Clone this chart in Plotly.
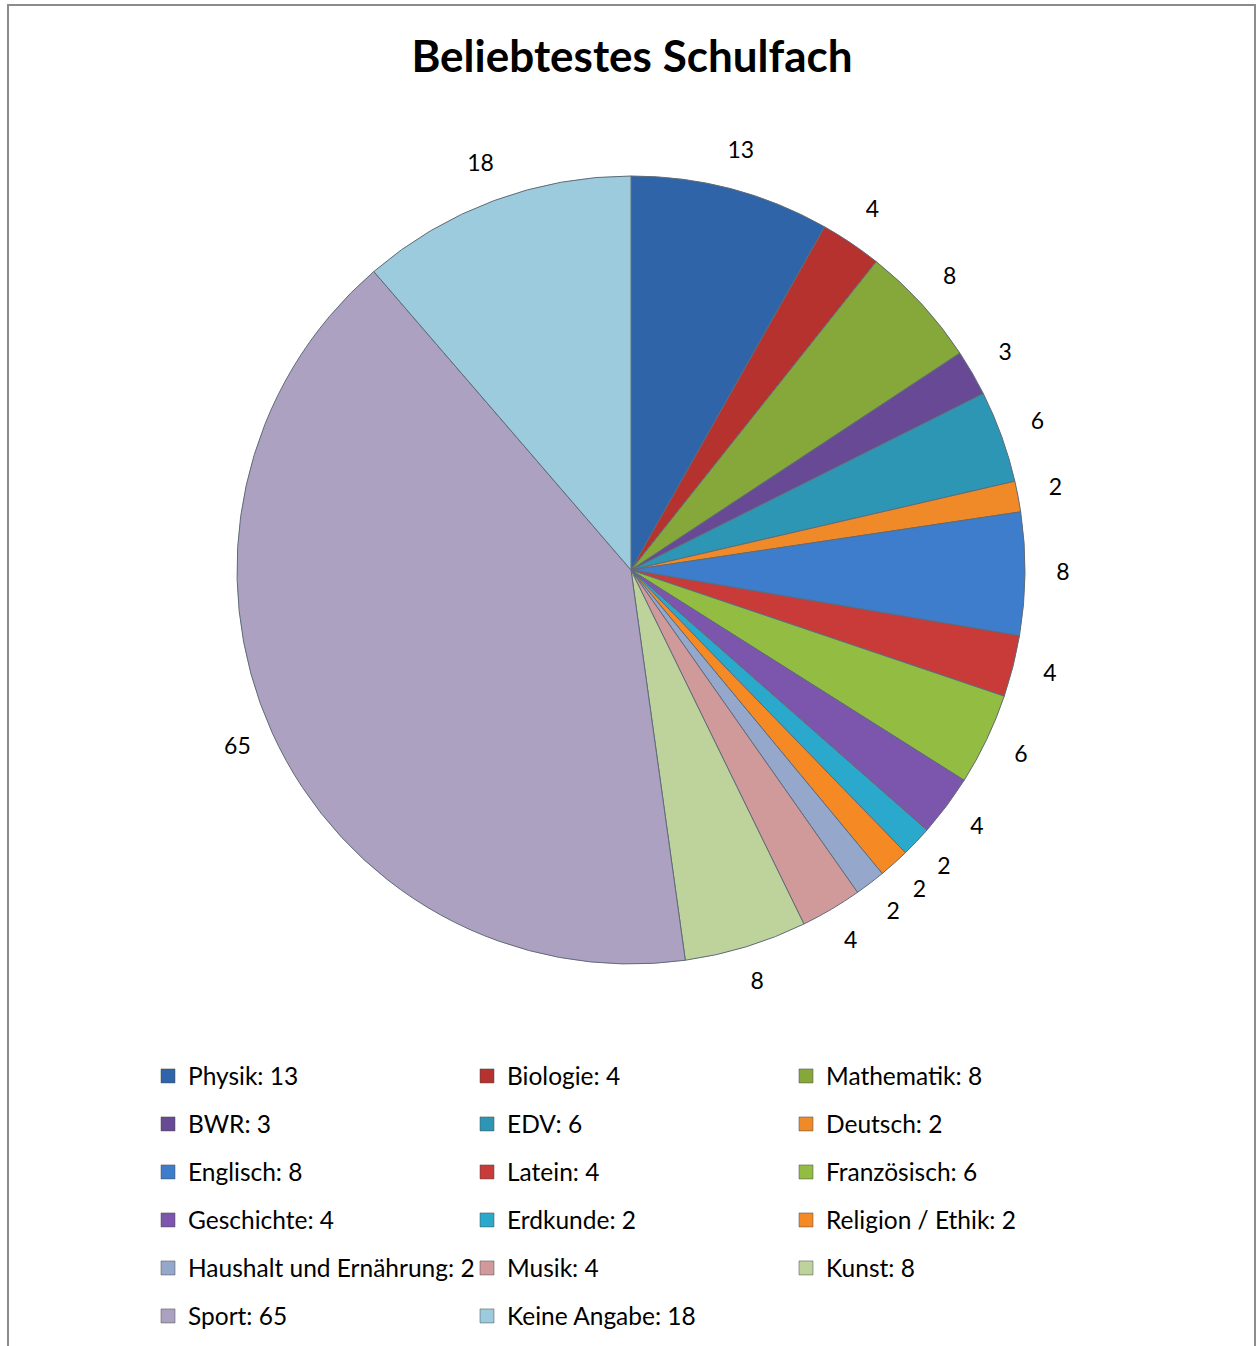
import numpy as np
import plotly.graph_objects as go

# ---- data ----
subjects = ["Physik", "Biologie", "Mathematik", "BWR", "EDV", "Deutsch",
            "Englisch", "Latein", "Französisch", "Geschichte", "Erdkunde",
            "Religion / Ethik", "Haushalt und Ernährung", "Musik", "Kunst",
            "Sport", "Keine Angabe"]
counts = [13, 4, 8, 3, 6, 2, 8, 4, 6, 4, 2, 2, 2, 4, 8, 65, 18]
colors = ["#2F64A8", "#B5322F", "#86A83A", "#684995", "#2D96B5", "#F08A28",
          "#3D7DCB", "#C83B38", "#93BC43", "#7C55AC", "#2BA9CC", "#F58A25",
          "#95A8CC", "#D19A9A", "#BED39C", "#ACA1C1", "#9BCBDD"]
legend_rows = [[0, 1, 2], [3, 4, 5], [6, 7, 8], [9, 10, 11], [12, 13, 14], [15, 16]]
title_text = "Beliebtestes Schulfach"

W, H = 1257, 1346
FONT = "Lato, 'Open Sans', sans-serif"

# pie placement (pixels) and label distance (in pie radii)
CX, CY, R = 631, 570, 394
LABEL_R = 1.0964
AX_SPAN = 1.25  # axis half-range in pie radii (so labels are inside the range)

pie_dom_x = [(CX - R) / W, (CX + R) / W]
pie_dom_y = [1 - (CY + R) / H, 1 - (CY - R) / H]
ax_dom_x = [(CX - AX_SPAN * R) / W, (CX + AX_SPAN * R) / W]
ax_dom_y = [1 - (CY + AX_SPAN * R) / H, 1 - (CY - AX_SPAN * R) / H]

fig = go.Figure()

fig.add_trace(go.Pie(
    labels=subjects,
    values=counts,
    sort=False,
    direction="clockwise",
    rotation=0,
    marker=dict(colors=colors, line=dict(color="#5F6B78", width=1)),
    textinfo="none",
    showlegend=False,
    hoverinfo="label+value",
    domain=dict(x=pie_dom_x, y=pie_dom_y),
))

# data labels: placed at the middle angle of each slice, just outside the pie
vals = np.array(counts, dtype=float)
mid = np.cumsum(vals) - vals / 2
theta = 2 * np.pi * mid / vals.sum()
fig.add_trace(go.Scatter(
    x=LABEL_R * np.sin(theta), y=LABEL_R * np.cos(theta),
    mode="text", text=[str(c) for c in counts],
    textposition="middle center",
    textfont=dict(family=FONT, size=23, color="#000000"),
    cliponaxis=False, showlegend=False, hoverinfo="skip",
))

# legend entries (one legend per row, 3 columns)
row_y = [1076, 1124, 1172, 1220, 1268, 1316]
for r, idxs in enumerate(legend_rows):
    lname = "legend" if r == 0 else f"legend{r + 1}"
    for i in idxs:
        fig.add_trace(go.Scatter(
            x=[None], y=[None], mode="markers",
            name=f"{subjects[i]}: {counts[i]}",
            marker=dict(symbol="square", size=14, color=colors[i],
                        line=dict(color="#4A4A4A", width=0.5)),
            legend=lname, showlegend=True, hoverinfo="skip",
        ))

legend_common = dict(
    orientation="h", xanchor="left", yanchor="middle",
    x=148 / W, entrywidth=274, entrywidthmode="pixels",
    font=dict(family=FONT, size=24.5, color="#000000"),
    bgcolor="rgba(0,0,0,0)", borderwidth=0,
    itemclick=False, itemdoubleclick=False,
)
legend_layout = {}
for r in range(len(legend_rows)):
    lname = "legend" if r == 0 else f"legend{r + 1}"
    legend_layout[lname] = dict(legend_common, y=1 - row_y[r] / H)

fig.update_layout(
    width=W, height=H,
    margin=dict(l=0, r=0, t=0, b=0),
    paper_bgcolor="white", plot_bgcolor="rgba(0,0,0,0)",
    title=dict(text="<b>" + title_text + "</b>", x=632 / W, xanchor="center",
               xref="container", yref="container", y=1 - 57 / H, yanchor="middle",
               font=dict(family=FONT, size=44, color="#000000")),
    xaxis=dict(visible=False, domain=ax_dom_x, range=[-AX_SPAN, AX_SPAN], fixedrange=True),
    yaxis=dict(visible=False, domain=ax_dom_y, range=[-AX_SPAN, AX_SPAN], fixedrange=True),
    shapes=[dict(type="rect", xref="paper", yref="paper",
                 x0=8 / W, x1=1255 / W, y0=-0.01, y1=1 - 5 / H,
                 line=dict(color="#8C8C8C", width=2), fillcolor="rgba(0,0,0,0)",
                 layer="above")],
    **legend_layout,
)

fig.write_html("out.html")
